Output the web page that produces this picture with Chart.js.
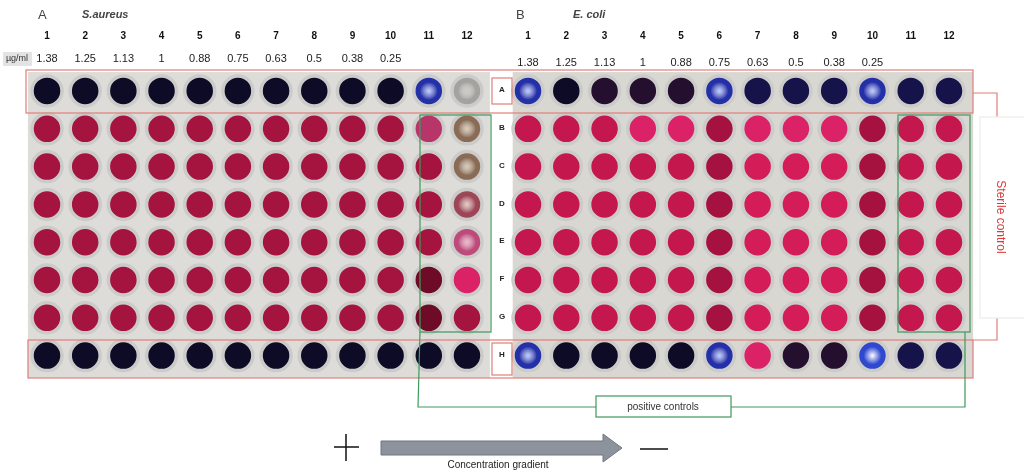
<!DOCTYPE html>
<html>
<head>
<meta charset="utf-8">
<script src="https://cdn.jsdelivr.net/npm/chart.js@4.4.0/dist/chart.umd.min.js"></script>
<style>
  html, body { margin: 0; padding: 0; background: #fff; }
  #wrap { width: 1024px; height: 473px; }
</style>
</head>
<body>
<div id="wrap"><canvas id="myChart" width="1024" height="473"></canvas></div>
<script>
// colonne e righe della piastra da 96 pozzetti
var columns = [1, 2, 3, 4, 5, 6, 7, 8, 9, 10, 11, 12];
var concentrations = ['1.38', '1.25', '1.13', '1', '0.88', '0.75', '0.63', '0.5', '0.38', '0.25'];
var rows = ['A', 'B', 'C', 'D', 'E', 'F', 'G', 'H'];

var wellsAureus = [
  'kkkkkkkkkkug',
  'rrrrrrrrrrlo',
  'rrrrrrrrrrro',
  'rrrrrrrrrrrs',
  'rrrrrrrrrrre',
  'rrrrrrrrrrdq',
  'rrrrrrrrrrdr',
  'kkkkkkkkkkkk'
];
var wellsEcoli = [
  'ukmmmunnnunn',
  'cccqqxqqqxcc',
  'cccccxpppxcc',
  'cccccxpppxcc',
  'cccccxpppxcc',
  'cccccxpppxcc',
  'cccccxpppxcc',
  'ukkkkuqmmwnn'
];

var wellColors = {
  k: '#0d0b26', n: '#16124a', u: '#2430a8', w: '#2f48d0', m: '#24102e',
  r: '#a4143f', d: '#6e0c28', l: '#b8356a', o: '#8a6c56', s: '#9c4656',
  e: '#bd4a7a', g: '#a3a29e', c: '#c4174d', p: '#d41c58', q: '#dc2266',
  x: '#a6123f'
};
var spotColors = { u: '#bfcfff', w: '#ffffff', o: '#d8ccb8', s: '#e2cfc0', e: '#e8bccb', g: '#c8c8c4' };

function buildPoints(grid) {
  var pts = [];
  for (var r = 0; r < rows.length; r++) {
    for (var c = 0; c < columns.length; c++) {
      pts.push({ x: columns[c], y: r, code: grid[r].charAt(c) });
    }
  }
  return pts;
}

function line(ctx, pts) {
  ctx.beginPath();
  ctx.moveTo(pts[0][0], pts[0][1]);
  for (var i = 1; i < pts.length; i++) ctx.lineTo(pts[i][0], pts[i][1]);
  ctx.stroke();
}

var plateDecor = {
  id: 'plateDecor',
  beforeDatasetsDraw: function(chart) {
    var ctx = chart.ctx, s = chart.scales;
    var top = s.y.getPixelForValue(-0.5), bottom = s.y.getPixelForValue(7.59);
    ctx.save();
    ctx.fillStyle = '#dedcd8';
    ctx.fillRect(s.xA.getPixelForValue(0.5), top, s.xA.getPixelForValue(12.6) - s.xA.getPixelForValue(0.5), bottom - top);
    ctx.fillStyle = '#d9d7d2';
    ctx.fillRect(s.xB.getPixelForValue(0.6), top, s.xB.getPixelForValue(12.63) - s.xB.getPixelForValue(0.6), bottom - top);
    ctx.restore();
  },
  afterDatasetsDraw: function(chart) {
    var ctx = chart.ctx, s = chart.scales;
    ctx.save();

    // riflessi al centro dei pozzetti
    chart.data.datasets.forEach(function(ds, i) {
      chart.getDatasetMeta(i).data.forEach(function(el, j) {
        var sp = spotColors[ds.data[j].code];
        if (!sp) return;
        var g = ctx.createRadialGradient(el.x, el.y, 0, el.x, el.y, 9);
        g.addColorStop(0, sp);
        g.addColorStop(1, 'rgba(255,255,255,0)');
        ctx.fillStyle = g;
        ctx.beginPath();
        ctx.arc(el.x, el.y, 9, 0, Math.PI * 2);
        ctx.fill();
      });
    });

    // riquadri rossi (righe A e H)
    ctx.strokeStyle = '#e07f7a';
    ctx.lineWidth = 1.2;
    ctx.strokeRect(26, 70, 947, 43);
    ctx.strokeRect(28, 340, 945, 38);
    ctx.strokeRect(492, 78, 20, 26);
    ctx.strokeRect(492, 343, 20, 32);
    line(ctx, [[973, 93], [997, 93], [997, 117]]);
    line(ctx, [[997, 318], [997, 340], [973, 340]]);

    // riquadro sterile control
    ctx.fillStyle = '#ffffff';
    ctx.fillRect(980, 117, 44, 201);
    ctx.strokeStyle = '#ececec';
    ctx.strokeRect(980, 117, 50, 201);
    ctx.save();
    ctx.translate(1000, 217);
    ctx.rotate(Math.PI / 2);
    ctx.fillStyle = '#d93a3a';
    ctx.font = '12px "Liberation Sans", Arial, sans-serif';
    ctx.textAlign = 'center';
    ctx.textBaseline = 'middle';
    ctx.fillText('Sterile control', 0, 0);
    ctx.restore();

    // controlli positivi in verde
    ctx.strokeStyle = '#3e9a5c';
    ctx.lineWidth = 1.2;
    ctx.strokeRect(420, 115, 71, 217);
    ctx.strokeRect(898, 115, 72, 217);
    line(ctx, [[420, 332], [418, 407], [596, 407]]);
    line(ctx, [[731, 407], [965, 407], [965, 332]]);
    ctx.fillStyle = '#ffffff';
    ctx.fillRect(596, 396, 135, 21);
    ctx.strokeRect(596, 396, 135, 21);
    ctx.fillStyle = '#333';
    ctx.font = '10px "Liberation Sans", Arial, sans-serif';
    ctx.textAlign = 'center';
    ctx.textBaseline = 'middle';
    ctx.fillText('positive controls', 663, 407);

    // lettere delle righe
    ctx.font = 'bold 8px "Liberation Sans", Arial, sans-serif';
    ctx.fillStyle = '#222';
    rows.forEach(function(r, i) {
      ctx.fillText(r, 502, s.y.getPixelForValue(i) - 1);
    });

    // titoli
    ctx.textAlign = 'left';
    ctx.fillStyle = '#444';
    ctx.font = '13px "Liberation Sans", Arial, sans-serif';
    ctx.fillText('A', 38, 15);
    ctx.fillText('B', 516, 15);
    ctx.font = 'italic bold 11px "Liberation Sans", Arial, sans-serif';
    ctx.fillText('S.aureus', 82, 15);
    ctx.fillText('E. coli', 573, 15);

    // numeri di colonna e concentrazioni
    ctx.textAlign = 'center';
    ctx.fillStyle = '#111';
    ctx.font = 'bold 10px "Liberation Sans", Arial, sans-serif';
    columns.forEach(function(c) {
      ctx.fillText(String(c), s.xA.getPixelForValue(c), 36);
      ctx.fillText(String(c), s.xB.getPixelForValue(c), 36);
    });
    ctx.font = '11px "Liberation Sans", Arial, sans-serif';
    ctx.fillStyle = '#222';
    concentrations.forEach(function(v, i) {
      ctx.fillText(v, s.xA.getPixelForValue(columns[i]), 59);
      ctx.fillText(v, s.xB.getPixelForValue(columns[i]), 63);
    });
    ctx.fillStyle = '#e3e3e3';
    ctx.fillRect(3, 52, 29, 14);
    ctx.fillStyle = '#333';
    ctx.font = '9px "Liberation Sans", Arial, sans-serif';
    ctx.fillText('\u00b5g/ml', 17, 59);

    // gradiente di concentrazione
    ctx.strokeStyle = '#111';
    ctx.lineWidth = 1.5;
    line(ctx, [[334, 447], [359, 447]]);
    line(ctx, [[346, 434], [346, 461]]);
    line(ctx, [[640, 449], [668, 449]]);
    ctx.fillStyle = '#8c939d';
    ctx.strokeStyle = '#6f7680';
    ctx.lineWidth = 1;
    ctx.beginPath();
    ctx.moveTo(381, 441);
    ctx.lineTo(603, 441);
    ctx.lineTo(603, 434);
    ctx.lineTo(622, 448);
    ctx.lineTo(603, 462);
    ctx.lineTo(603, 455);
    ctx.lineTo(381, 455);
    ctx.closePath();
    ctx.fill();
    ctx.stroke();
    ctx.fillStyle = '#222';
    ctx.font = '10px "Liberation Sans", Arial, sans-serif';
    ctx.fillText('Concentration gradient', 498, 465);

    ctx.restore();
  }
};

var ctx = document.getElementById('myChart').getContext('2d');
var chart = new Chart(ctx, {
  type: 'scatter',
  data: {
    datasets: [{
      label: 'S.aureus',
      xAxisID: 'xA',
      data: buildPoints(wellsAureus)
    }, {
      label: 'E. coli',
      xAxisID: 'xB',
      data: buildPoints(wellsEcoli)
    }]
  },
  options: {
    responsive: false,
    animation: false,
    layout: { padding: 0, autoPadding: false },
    elements: {
      point: {
        radius: 15,
        borderWidth: 3.5,
        borderColor: '#cbcbc9',
        backgroundColor: function(c) { return c.raw ? wellColors[c.raw.code] : '#000'; }
      }
    },
    plugins: {
      legend: { display: false },
      tooltip: { enabled: false }
    },
    scales: {
      xA: { type: 'linear', display: false, min: -0.231, max: 26.59 },
      xB: { type: 'linear', display: false, min: -12.797, max: 13.96 },
      y: { type: 'linear', display: false, reverse: true, min: -2.407, max: 10.106 }
    }
  },
  plugins: [plateDecor]
});
</script>
</body>
</html>
